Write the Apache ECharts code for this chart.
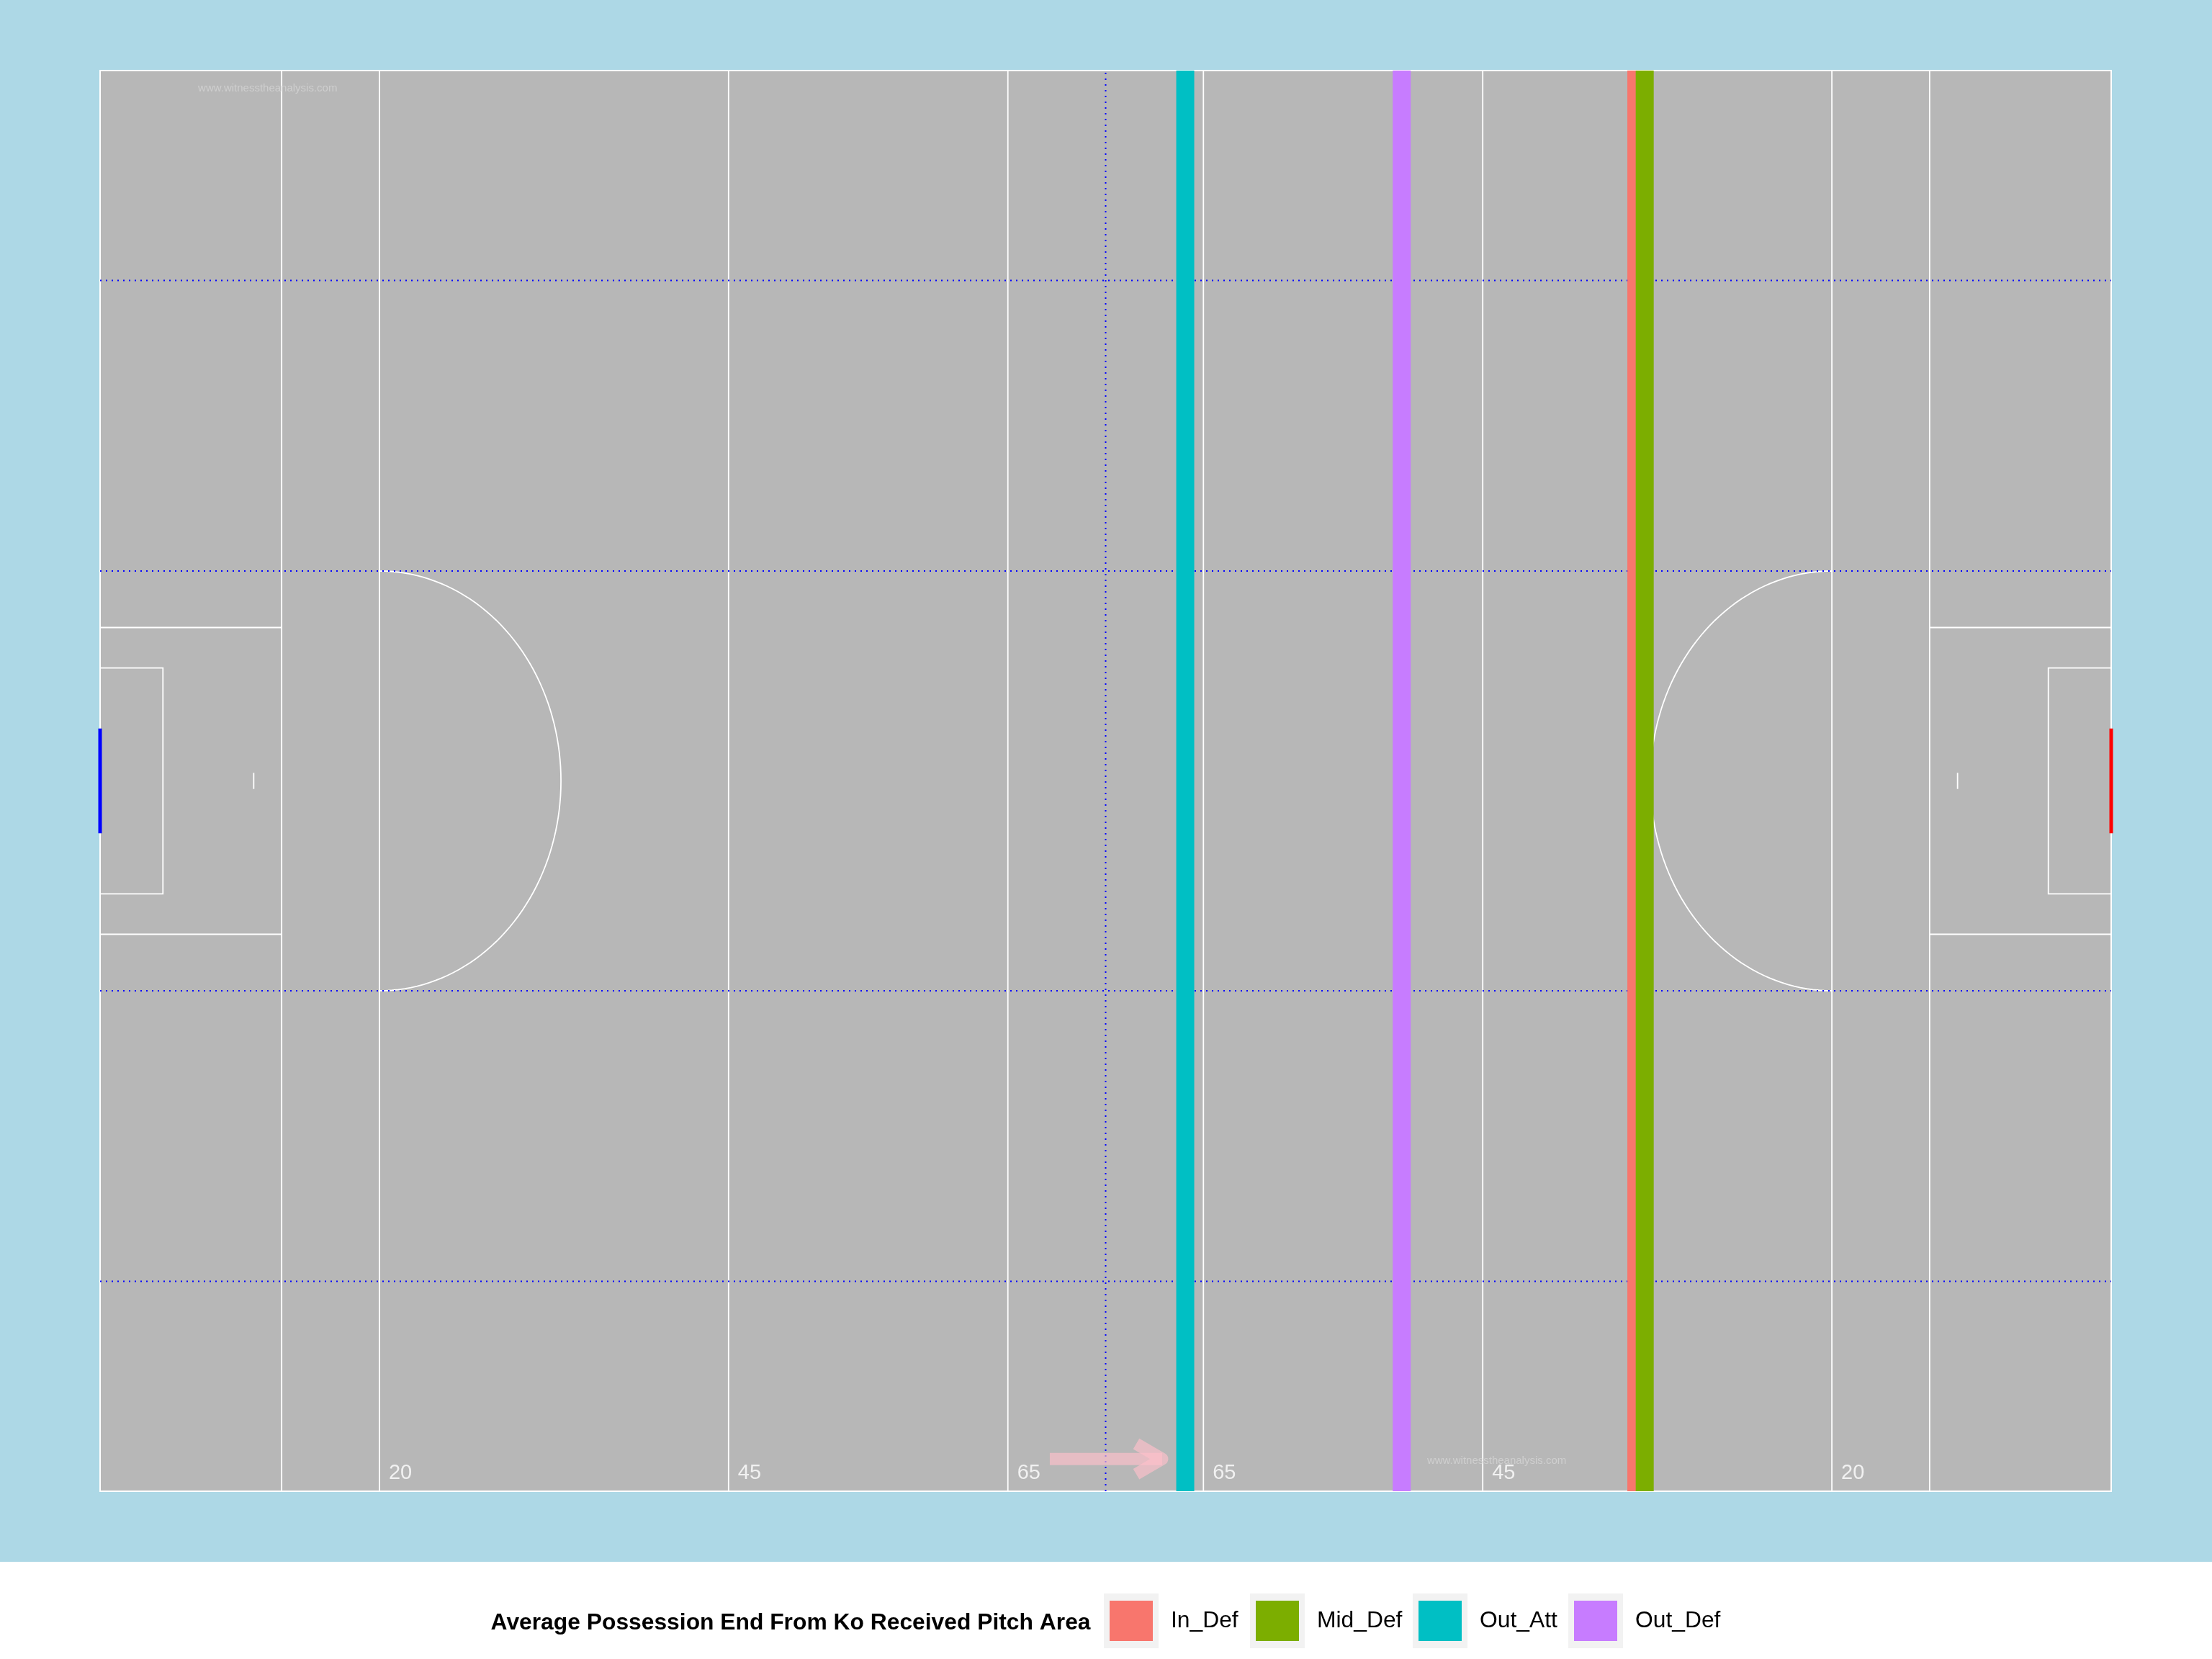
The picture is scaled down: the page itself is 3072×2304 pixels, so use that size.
<!DOCTYPE html>
<html><head><meta charset="utf-8">
<script src="https://cdn.jsdelivr.net/npm/echarts@6/dist/echarts.min.js"></script>
<style>html,body{margin:0;padding:0;background:#fff}#c{width:3072px;height:2304px}</style>
</head><body><div id="c"></div>
<script>
// ---- data ----
const areas = ['In_Def', 'Mid_Def', 'Out_Att', 'Out_Def'];
const avgEndX = [110.0, 110.6, 77.7, 93.2];          // metres from left end line
const legendTitle = 'Average Possession End From Ko Received Pitch Area';
const pitchLength = 144;
const pitchWidth = 88;
const lineDistances = [13, 20, 45, 65];               // lines measured from each end
const lineLabels = ['20', '45', '65'];                // labelled lines
const zoneLinesY = [13, 31, 57, 75];                  // dotted channel lines
const halfwayX = 72;
const watermark = 'www.witnesstheanalysis.com';
const arrowFromX = 68, arrowToX = 76.05, arrowY = 2;

// ---- styles ----
const areaColors = ['#F8766D', '#7CAE00', '#00BFC4', '#C77CFF'];
const FONT = '"Liberation Sans", Arial, Helvetica, sans-serif';
const WHITE = '#FFFFFF';

// ---- pitch geometry (shapes built from the pitch constants) ----
const L = pitchLength, Wd = pitchWidth, cy = Wd / 2;
const pitchPolys = [];
lineDistances.forEach(d => {
  pitchPolys.push([[d, 0], [d, Wd]]);
  pitchPolys.push([[L - d, 0], [L - d, Wd]]);
});
// large rectangle (13m x 19m)
pitchPolys.push([[0, cy - 9.5], [13, cy - 9.5]]);
pitchPolys.push([[0, cy + 9.5], [13, cy + 9.5]]);
pitchPolys.push([[L, cy - 9.5], [L - 13, cy - 9.5]]);
pitchPolys.push([[L, cy + 9.5], [L - 13, cy + 9.5]]);
// small rectangle (4.5m x 14m)
pitchPolys.push([[0, cy - 7], [4.5, cy - 7], [4.5, cy + 7], [0, cy + 7]]);
pitchPolys.push([[L, cy - 7], [L - 4.5, cy - 7], [L - 4.5, cy + 7], [L, cy + 7]]);
// penalty marks
pitchPolys.push([[11, cy - 0.5], [11, cy + 0.5]]);
pitchPolys.push([[L - 11, cy - 0.5], [L - 11, cy + 0.5]]);
// arcs at the 20m lines
const arcL = [], arcR = [];
for (let a = -90; a <= 90; a += 2) {
  const t = a * Math.PI / 180;
  arcL.push([20 + 13 * Math.cos(t), cy + 13 * Math.sin(t)]);
  arcR.push([L - 20 - 13 * Math.cos(t), cy + 13 * Math.sin(t)]);
}
pitchPolys.push(arcL, arcR);

const dottedPolys = zoneLinesY.map(y => [[0, y], [L, y]]);
dottedPolys.push([[halfwayX, 0], [halfwayX, Wd]]);

const labelPoints = [];
lineLabels.forEach(t => {
  const d = Number(t);
  labelPoints.push({ name: t, value: [d + 1.5, 1.1] });
});
lineLabels.slice().reverse().forEach(t => {
  const d = Number(t);
  labelPoints.push({ name: t, value: [L - d + 1.5, 1.1] });
});

const chart = echarts.init(document.getElementById('c'), null, { renderer: 'canvas' });

const series = [];
series.push({
  type: 'lines', coordinateSystem: 'cartesian2d', polyline: true, silent: true, z: 2,
  lineStyle: { color: WHITE, width: 1.8, opacity: 1, curveness: 0 },
  data: pitchPolys.map(c => ({ coords: c }))
});
// goals
series.push({
  type: 'lines', coordinateSystem: 'cartesian2d', polyline: true, silent: true, clip: false, z: 3,
  lineStyle: { width: 5, opacity: 1, curveness: 0, cap: 'butt' },
  data: [
    { coords: [[0, cy - 3.25], [0, cy + 3.25]], lineStyle: { color: '#0000FF' } },
    { coords: [[L, cy - 3.25], [L, cy + 3.25]], lineStyle: { color: '#FF0000' } }
  ]
});
series.push({
  type: 'lines', coordinateSystem: 'cartesian2d', polyline: true, silent: true, z: 3,
  lineStyle: { color: '#0000FF', width: 2, opacity: 1, type: [2, 6], curveness: 0 },
  data: dottedPolys.map(c => ({ coords: c }))
});
// watermarks
series.push({
  type: 'scatter', silent: true, symbolSize: 0, z: 4,
  label: { show: true, position: 'inside', formatter: p => p.name, color: '#D4D4D4', fontSize: 15, fontFamily: FONT },
  data: [{ name: watermark, value: [12, 86.9] }, { name: watermark, value: [100, 1.9] }]
});
// average possession end lines
areas.forEach((a, i) => {
  series.push({
    name: a, type: 'line', silent: true, showSymbol: false, symbol: 'none', z: 5,
    itemStyle: { color: areaColors[i] },
    lineStyle: { color: areaColors[i], width: 25, cap: 'butt' },
    data: [[avgEndX[i], 0], [avgEndX[i], Wd]]
  });
});
// line labels
series.push({
  type: 'scatter', silent: true, symbolSize: 0, z: 7,
  label: { show: true, position: 'inside', formatter: p => p.name, color: WHITE, fontSize: 29, fontFamily: FONT },
  data: labelPoints
});
// attack direction arrow
series.push({
  type: 'lines', coordinateSystem: 'cartesian2d', polyline: true, silent: true, z: 8,
  lineStyle: { color: '#FFC0CB', width: 17, opacity: 0.65, curveness: 0, cap: 'butt', join: 'round' },
  data: [
    { coords: [[arrowFromX, arrowY], [arrowToX, arrowY]] },
    { coords: [[arrowToX - 1.86, arrowY + 0.94], [arrowToX, arrowY], [arrowToX - 1.86, arrowY - 0.94]] }
  ]
});

const keyLeft = [1541, 1744, 1970, 2186];
const legends = areas.map((a, i) => ({
  data: [{ name: a, icon: 'rect' }],
  left: keyLeft[i], top: 2223, padding: 0, orient: 'horizontal',
  itemWidth: 60, itemHeight: 56, selectedMode: false,
  textStyle: { fontSize: 31.8, color: '#000000', fontFamily: FONT, padding: [9, 0, 0, 20] }
}));

const graphics = [
  { type: 'rect', z: -10, silent: true, shape: { x: 0, y: 0, width: 3072, height: 2169 }, style: { fill: '#ADD8E6' } },
  { type: 'text', z: 10, silent: true, x: 681.6, y: 2254,
    style: { text: legendTitle, fill: '#000000', fontSize: 31.8, fontWeight: 'bold', fontFamily: FONT, verticalAlign: 'middle', align: 'left' } }
];
keyLeft.forEach(x => graphics.push({ type: 'rect', z: -5, silent: true, shape: { x: x - 8, y: 2213, width: 76, height: 76 }, style: { fill: '#F2F2F2' } }));

chart.setOption({
  animation: false,
  backgroundColor: '#FFFFFF',
  grid: { left: 139, top: 98, width: 2793, height: 1973, show: true, backgroundColor: '#B7B7B7', borderColor: WHITE, borderWidth: 2, containLabel: false },
  xAxis: { type: 'value', min: 0, max: L, show: false },
  yAxis: { type: 'value', min: 0, max: Wd, show: false },
  legend: legends,
  graphic: { elements: graphics },
  series: series
});
</script></body></html>
